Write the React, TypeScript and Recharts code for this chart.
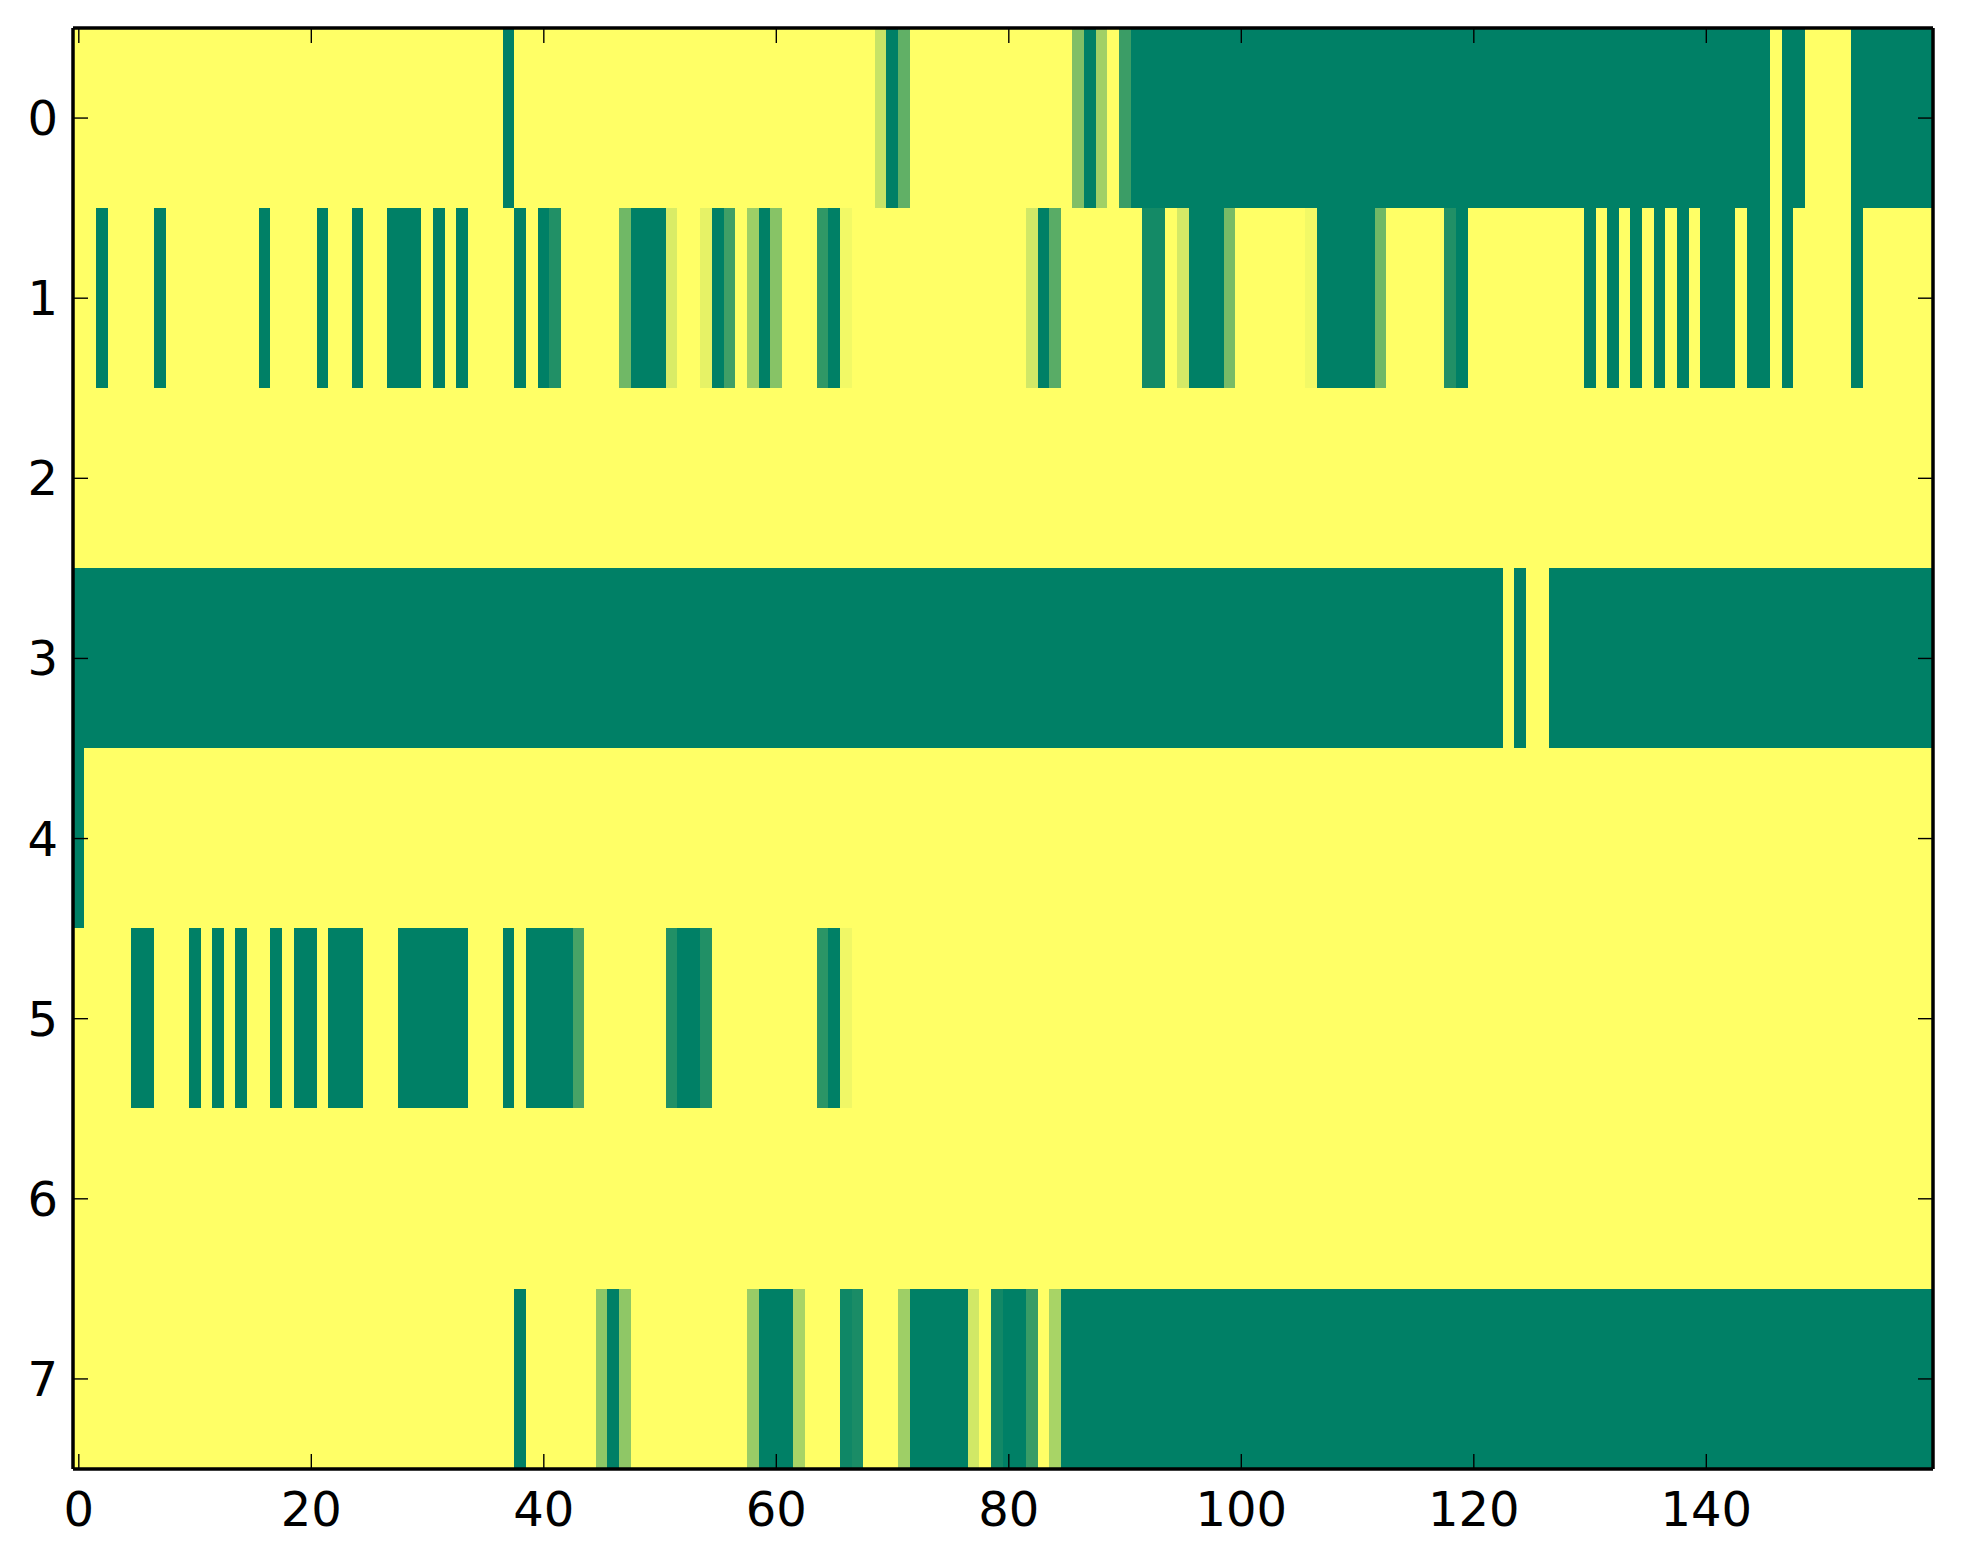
import { Scatter, ScatterChart, XAxis, YAxis } from "recharts";

// one array per image row, 160 columns each, values 0..1 (summer colormap)
const row0 = [
    1, 1, 1, 1, 1, 1, 1, 1, 1, 1, 1, 1, 1, 1, 1, 1, 1, 1, 1, 1,
    1, 1, 1, 1, 1, 1, 1, 1, 1, 1, 1, 1, 1, 1, 1, 1, 1, 0, 1, 1,
    1, 1, 1, 1, 1, 1, 1, 1, 1, 1, 1, 1, 1, 1, 1, 1, 1, 1, 1, 1,
    1, 1, 1, 1, 1, 1, 1, 1, 1, 0.78, 0, 0.38, 1, 1, 1, 1, 1, 1, 1, 1,
    1, 1, 1, 1, 1, 1, 0.5, 0, 0.63, 1, 0.23, 0, 0, 0, 0, 0, 0, 0, 0, 0,
    0, 0, 0, 0, 0, 0, 0, 0, 0, 0, 0, 0, 0, 0, 0, 0, 0, 0, 0, 0,
    0, 0, 0, 0, 0, 0, 0, 0, 0, 0, 0, 0, 0, 0, 0, 0, 0, 0, 0, 0,
    0, 0, 0, 0, 0, 0, 1, 0, 0, 1, 1, 1, 1, 0, 0, 0, 0, 0, 0, 0,
];
const row1 = [
    1, 1, 0, 1, 1, 1, 1, 0, 1, 1, 1, 1, 1, 1, 1, 1, 0, 1, 1, 1,
    1, 0, 1, 1, 0, 1, 1, 0, 0, 0, 1, 0, 1, 0, 1, 1, 1, 1, 0, 1,
    0, 0.13, 1, 1, 1, 1, 1, 0.44, 0, 0, 0, 0.85, 1, 1, 0.9, 0, 0.25, 1, 0.62, 0,
    0.53, 1, 1, 1, 0.19, 0, 0.95, 1, 1, 1, 1, 1, 1, 1, 1, 1, 1, 1, 1, 1,
    1, 1, 0.82, 0, 0.35, 1, 1, 1, 1, 1, 1, 1, 0.08, 0.08, 1, 0.83, 0, 0, 0, 0.47,
    1, 1, 1, 1, 1, 1, 0.95, 0, 0, 0, 0, 0, 0.44, 1, 1, 1, 1, 1, 0.13, 0,
    1, 1, 1, 1, 1, 1, 1, 1, 1, 1, 0, 1, 0, 1, 0, 1, 0, 1, 0, 1,
    0, 0, 0, 1, 0, 0, 1, 0, 1, 1, 1, 1, 1, 0, 1, 1, 1, 1, 1, 1,
];
const row2 = [
    1, 1, 1, 1, 1, 1, 1, 1, 1, 1, 1, 1, 1, 1, 1, 1, 1, 1, 1, 1,
    1, 1, 1, 1, 1, 1, 1, 1, 1, 1, 1, 1, 1, 1, 1, 1, 1, 1, 1, 1,
    1, 1, 1, 1, 1, 1, 1, 1, 1, 1, 1, 1, 1, 1, 1, 1, 1, 1, 1, 1,
    1, 1, 1, 1, 1, 1, 1, 1, 1, 1, 1, 1, 1, 1, 1, 1, 1, 1, 1, 1,
    1, 1, 1, 1, 1, 1, 1, 1, 1, 1, 1, 1, 1, 1, 1, 1, 1, 1, 1, 1,
    1, 1, 1, 1, 1, 1, 1, 1, 1, 1, 1, 1, 1, 1, 1, 1, 1, 1, 1, 1,
    1, 1, 1, 1, 1, 1, 1, 1, 1, 1, 1, 1, 1, 1, 1, 1, 1, 1, 1, 1,
    1, 1, 1, 1, 1, 1, 1, 1, 1, 1, 1, 1, 1, 1, 1, 1, 1, 1, 1, 1,
];
const row3 = [
    0, 0, 0, 0, 0, 0, 0, 0, 0, 0, 0, 0, 0, 0, 0, 0, 0, 0, 0, 0,
    0, 0, 0, 0, 0, 0, 0, 0, 0, 0, 0, 0, 0, 0, 0, 0, 0, 0, 0, 0,
    0, 0, 0, 0, 0, 0, 0, 0, 0, 0, 0, 0, 0, 0, 0, 0, 0, 0, 0, 0,
    0, 0, 0, 0, 0, 0, 0, 0, 0, 0, 0, 0, 0, 0, 0, 0, 0, 0, 0, 0,
    0, 0, 0, 0, 0, 0, 0, 0, 0, 0, 0, 0, 0, 0, 0, 0, 0, 0, 0, 0,
    0, 0, 0, 0, 0, 0, 0, 0, 0, 0, 0, 0, 0, 0, 0, 0, 0, 0, 0, 0,
    0, 0, 0, 1, 0, 1, 1, 0, 0, 0, 0, 0, 0, 0, 0, 0, 0, 0, 0, 0,
    0, 0, 0, 0, 0, 0, 0, 0, 0, 0, 0, 0, 0, 0, 0, 0, 0, 0, 0, 0,
];
const row4 = [
    0, 1, 1, 1, 1, 1, 1, 1, 1, 1, 1, 1, 1, 1, 1, 1, 1, 1, 1, 1,
    1, 1, 1, 1, 1, 1, 1, 1, 1, 1, 1, 1, 1, 1, 1, 1, 1, 1, 1, 1,
    1, 1, 1, 1, 1, 1, 1, 1, 1, 1, 1, 1, 1, 1, 1, 1, 1, 1, 1, 1,
    1, 1, 1, 1, 1, 1, 1, 1, 1, 1, 1, 1, 1, 1, 1, 1, 1, 1, 1, 1,
    1, 1, 1, 1, 1, 1, 1, 1, 1, 1, 1, 1, 1, 1, 1, 1, 1, 1, 1, 1,
    1, 1, 1, 1, 1, 1, 1, 1, 1, 1, 1, 1, 1, 1, 1, 1, 1, 1, 1, 1,
    1, 1, 1, 1, 1, 1, 1, 1, 1, 1, 1, 1, 1, 1, 1, 1, 1, 1, 1, 1,
    1, 1, 1, 1, 1, 1, 1, 1, 1, 1, 1, 1, 1, 1, 1, 1, 1, 1, 1, 1,
];
const row5 = [
    1, 1, 1, 1, 1, 0, 0, 1, 1, 1, 0, 1, 0, 1, 0, 1, 1, 0, 1, 0,
    0, 1, 0, 0, 0, 1, 1, 1, 0, 0, 0, 0, 0, 0, 1, 1, 1, 0, 1, 0,
    0, 0, 0, 0.28, 1, 1, 1, 1, 1, 1, 1, 0.13, 0, 0, 0.13, 1, 1, 1, 1, 1,
    1, 1, 1, 1, 0.17, 0, 0.94, 1, 1, 1, 1, 1, 1, 1, 1, 1, 1, 1, 1, 1,
    1, 1, 1, 1, 1, 1, 1, 1, 1, 1, 1, 1, 1, 1, 1, 1, 1, 1, 1, 1,
    1, 1, 1, 1, 1, 1, 1, 1, 1, 1, 1, 1, 1, 1, 1, 1, 1, 1, 1, 1,
    1, 1, 1, 1, 1, 1, 1, 1, 1, 1, 1, 1, 1, 1, 1, 1, 1, 1, 1, 1,
    1, 1, 1, 1, 1, 1, 1, 1, 1, 1, 1, 1, 1, 1, 1, 1, 1, 1, 1, 1,
];
const row6 = [
    1, 1, 1, 1, 1, 1, 1, 1, 1, 1, 1, 1, 1, 1, 1, 1, 1, 1, 1, 1,
    1, 1, 1, 1, 1, 1, 1, 1, 1, 1, 1, 1, 1, 1, 1, 1, 1, 1, 1, 1,
    1, 1, 1, 1, 1, 1, 1, 1, 1, 1, 1, 1, 1, 1, 1, 1, 1, 1, 1, 1,
    1, 1, 1, 1, 1, 1, 1, 1, 1, 1, 1, 1, 1, 1, 1, 1, 1, 1, 1, 1,
    1, 1, 1, 1, 1, 1, 1, 1, 1, 1, 1, 1, 1, 1, 1, 1, 1, 1, 1, 1,
    1, 1, 1, 1, 1, 1, 1, 1, 1, 1, 1, 1, 1, 1, 1, 1, 1, 1, 1, 1,
    1, 1, 1, 1, 1, 1, 1, 1, 1, 1, 1, 1, 1, 1, 1, 1, 1, 1, 1, 1,
    1, 1, 1, 1, 1, 1, 1, 1, 1, 1, 1, 1, 1, 1, 1, 1, 1, 1, 1, 1,
];
const row7 = [
    1, 1, 1, 1, 1, 1, 1, 1, 1, 1, 1, 1, 1, 1, 1, 1, 1, 1, 1, 1,
    1, 1, 1, 1, 1, 1, 1, 1, 1, 1, 1, 1, 1, 1, 1, 1, 1, 1, 0, 1,
    1, 1, 1, 1, 1, 0.56, 0, 0.56, 1, 1, 1, 1, 1, 1, 1, 1, 1, 1, 0.6, 0,
    0, 0, 0.66, 1, 1, 1, 0.06, 0.1, 1, 1, 1, 0.62, 0, 0, 0, 0, 0, 0.82, 1, 0.07,
    0, 0, 0.22, 1, 0.66, 0, 0, 0, 0, 0, 0, 0, 0, 0, 0, 0, 0, 0, 0, 0,
    0, 0, 0, 0, 0, 0, 0, 0, 0, 0, 0, 0, 0, 0, 0, 0, 0, 0, 0, 0,
    0, 0, 0, 0, 0, 0, 0, 0, 0, 0, 0, 0, 0, 0, 0, 0, 0, 0, 0, 0,
    0, 0, 0, 0, 0, 0, 0, 0, 0, 0, 0, 0, 0, 0, 0, 0, 0, 0, 0, 0,
];

const rows = [row0, row1, row2, row3, row4, row5, row6, row7];
const xTicks = [0, 20, 40, 60, 80, 100, 120, 140];
const yTicks = [0, 1, 2, 3, 4, 5, 6, 7];

const COLS = 160;
const ROWS = 8;
const PLOT_W = 1860;
const PLOT_H = 1441;
const CELL_W = PLOT_W / COLS;
const CELL_H = PLOT_H / ROWS;
const FONT = "DejaVu Sans";

const cells = rows.flatMap((row, r) => row.map((v, c) => ({ x: c, y: r, v })));

// matplotlib "summer"
function summer(v: number) {
    return `rgb(${Math.round(255 * v)}, ${Math.round(255 * (0.5 + 0.5 * v))}, 102)`;
}

function CellShape(props: any) {
    const { cx, cy, payload } = props;
    return (
        <rect
            x={cx - CELL_W / 2 - 0.3}
            y={cy - CELL_H / 2 - 0.3}
            width={CELL_W + 0.6}
            height={CELL_H + 0.6}
            fill={summer(payload.v)}
            shapeRendering="crispEdges"
        />
    );
}

// invisible marks, only there so the top/right frame axes get drawn
function NoShape() {
    return <g />;
}

function BottomTick({ x, y, payload }: any) {
    return (
        <g>
            <line x1={x} x2={x} y1={y} y2={y - 15} stroke="#000" strokeWidth={1.4} />
            <text x={x} y={y + 57} textAnchor="middle" fontSize={48} fontFamily={FONT} fill="#000">
                {payload.value}
            </text>
        </g>
    );
}

function TopTick({ x, y }: any) {
    return <line x1={x} x2={x} y1={y} y2={y + 15} stroke="#000" strokeWidth={1.4} />;
}

function LeftTick({ x, y, payload }: any) {
    return (
        <g>
            <line x1={x} x2={x + 15} y1={y} y2={y} stroke="#000" strokeWidth={1.4} />
            <text x={x - 15} y={y + 17} textAnchor="end" fontSize={48} fontFamily={FONT} fill="#000">
                {payload.value}
            </text>
        </g>
    );
}

function RightTick({ x, y }: any) {
    return <line x1={x} x2={x - 15} y1={y} y2={y} stroke="#000" strokeWidth={1.4} />;
}

const spine = { stroke: "#000", strokeWidth: 3.5 };
const axisZ = 900;

export default function App() {
    return (
        <div style={{ width: 1947, height: 1541 }}>
            <ScatterChart width={1947} height={1541} margin={{ top: 19, right: 21, bottom: 0, left: 0 }}>
                <Scatter
                    xAxisId="b"
                    yAxisId="l"
                    data={cells}
                    dataKey="y"
                    shape={<CellShape />}
                    isAnimationActive={false}
                    zIndex={50}
                />
                <Scatter
                    xAxisId="t"
                    yAxisId="r"
                    data={cells}
                    dataKey="y"
                    shape={<NoShape />}
                    isAnimationActive={false}
                    zIndex={50}
                />
                <XAxis
                    xAxisId="b"
                    type="number"
                    dataKey="x"
                    domain={[-0.5, 159.5]}
                    allowDataOverflow
                    ticks={xTicks}
                    orientation="bottom"
                    height={80}
                    tickSize={0}
                    tickMargin={0}
                    tickLine={false}
                    axisLine={spine}
                    tick={<BottomTick />}
                    interval={0}
                    zIndex={axisZ}
                />
                <XAxis
                    xAxisId="t"
                    type="number"
                    dataKey="x"
                    domain={[-0.5, 159.5]}
                    allowDataOverflow
                    ticks={xTicks}
                    orientation="top"
                    height={1}
                    tickSize={0}
                    tickMargin={0}
                    tickLine={false}
                    axisLine={spine}
                    tick={<TopTick />}
                    interval={0}
                    zIndex={axisZ}
                />
                <YAxis
                    yAxisId="l"
                    type="number"
                    dataKey="y"
                    domain={[-0.5, 7.5]}
                    allowDataOverflow
                    reversed
                    ticks={yTicks}
                    width={65}
                    tickSize={0}
                    tickMargin={0}
                    tickLine={false}
                    axisLine={spine}
                    tick={<LeftTick />}
                    interval={0}
                    zIndex={axisZ}
                />
                <YAxis
                    yAxisId="r"
                    type="number"
                    dataKey="y"
                    domain={[-0.5, 7.5]}
                    allowDataOverflow
                    reversed
                    ticks={yTicks}
                    orientation="right"
                    width={1}
                    tickSize={0}
                    tickMargin={0}
                    tickLine={false}
                    axisLine={spine}
                    tick={<RightTick />}
                    interval={0}
                    zIndex={axisZ}
                />
            </ScatterChart>
        </div>
    );
}
